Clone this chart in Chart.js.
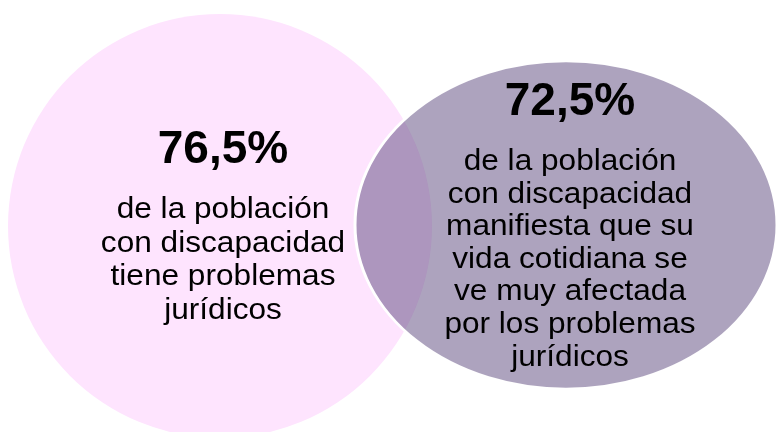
<!DOCTYPE html>
<html>
<head>
<meta charset="utf-8">
<script src="https://cdn.jsdelivr.net/npm/chart.js@4.4.1/dist/chart.umd.min.js"></script>
<style>
  html, body { margin: 0; padding: 0; background: #fff; }
  canvas { display: block; }
</style>
</head>
<body>
<canvas id="vennChart" width="777" height="432"></canvas>
<script>
// data
var categories = ['Tiene problemas jurídicos', 'Vida cotidiana muy afectada'];
var percentages = [76.5, 72.5];
var descriptions = [
    ['de la población', 'con discapacidad', 'tiene problemas', 'jurídicos'],
    ['de la población', 'con discapacidad', 'manifiesta que su', 'vida cotidiana se', 've muy afectada', 'por los problemas', 'jurídicos']
];

// layout / styling (kept apart from the data)
var shapes = [
    { cx: 220, cy: 226, r: 212, scaleY: 1, fill: 'rgb(254,228,254)', border: 'rgba(0,0,0,0)', borderWidth: 0,
      order: 1, textDx: 3, titleDy: -63, bodyDy: -8, lineH: 33.5 },
    { cx: 566, cy: 225, r: 211, scaleY: 0.777, fill: 'rgba(91,71,125,0.5)', border: '#ffffff', borderWidth: 3,
      order: 0, textDx: 4, titleDy: -110, bodyDy: -55, lineH: 32.6 }
];
var fontFamily = '"Liberation Sans", Arial, Helvetica, sans-serif';
var bodyStretch = 1.09;

function fmtPct(v) {
    return v.toFixed(1).replace('.', ',') + '%';
}

var datasets = categories.map(function(cat, i) {
    var s = shapes[i];
    return {
        label: cat,
        data: [{ x: s.cx, y: s.cy, r: s.r, v: percentages[i] }],
        backgroundColor: s.fill,
        borderColor: s.border,
        borderWidth: s.borderWidth,
        hoverBorderWidth: s.borderWidth,
        order: s.order,
        clip: false
    };
});

// squash the second bubble vertically into an ellipse
var ellipsePlugin = {
    id: 'ellipse',
    beforeDatasetDraw: function(chart, args) {
        var s = shapes[args.index];
        var el = chart.getDatasetMeta(args.index).data[0];
        chart.ctx.save();
        chart.ctx.translate(el.x, el.y);
        chart.ctx.scale(1, s.scaleY);
        chart.ctx.translate(-el.x, -el.y);
    },
    afterDatasetDraw: function(chart) {
        chart.ctx.restore();
    }
};

// percentages and descriptions written inside each shape
var textPlugin = {
    id: 'vennText',
    afterDatasetsDraw: function(chart) {
        var ctx = chart.ctx;
        ctx.save();
        ctx.fillStyle = '#000';
        ctx.textAlign = 'center';
        ctx.textBaseline = 'alphabetic';
        categories.forEach(function(cat, i) {
            var s = shapes[i];
            var el = chart.getDatasetMeta(i).data[0];
            var x = el.x + s.textDx;
            ctx.font = 'bold 46px ' + fontFamily;
            ctx.fillText(fmtPct(percentages[i]), x, el.y + s.titleDy);
            ctx.font = '29px ' + fontFamily;
            descriptions[i].forEach(function(line, j) {
                ctx.save();
                ctx.translate(x, el.y + s.bodyDy + j * s.lineH);
                ctx.scale(bodyStretch, 1);
                ctx.fillText(line, 0, 0);
                ctx.restore();
            });
        });
        ctx.restore();
    }
};

var ctx = document.getElementById('vennChart').getContext('2d');
try {
    var vennChart = new Chart(ctx, {
        type: 'bubble',
        data: { datasets: datasets },
        options: {
            responsive: false,
            animation: false,
            layout: { padding: 0, autoPadding: false },
            plugins: {
                legend: { display: false },
                tooltip: { enabled: false }
            },
            scales: {
                x: { type: 'linear', min: 0, max: 777, display: false },
                y: { type: 'linear', min: 0, max: 432, reverse: true, display: false }
            }
        },
        plugins: [ellipsePlugin, textPlugin]
    });
} catch (error) {
    console.error(error);
}
</script>
</body>
</html>
